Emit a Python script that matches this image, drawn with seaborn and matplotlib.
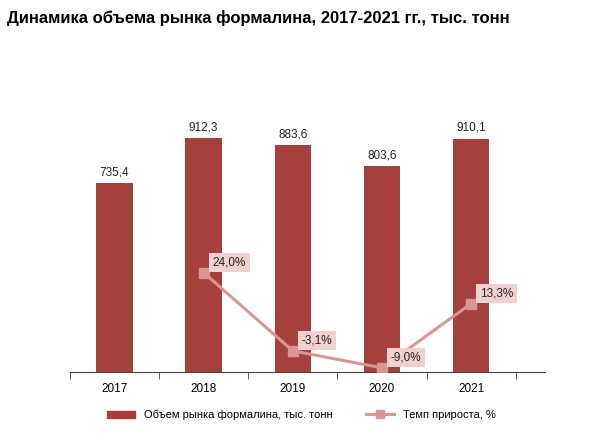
import matplotlib
matplotlib.use("Agg")
import matplotlib.pyplot as plt
import seaborn as sns
import pandas as pd
import numpy as np
from matplotlib.lines import Line2D
from matplotlib.patches import Patch

plt.rcParams["font.family"] = "Liberation Sans"

years = ["2017", "2018", "2019", "2020", "2021"]
volume = [735.4, 912.3, 883.6, 803.6, 910.1]
growth_years = ["2018", "2019", "2020", "2021"]
growth = [24.0, -3.1, -9.0, 13.3]

bar_color = "#A5403D"
line_color = "#D99694"

df = pd.DataFrame({"year": years, "volume": volume})

fig = plt.figure(figsize=(6.03, 4.36), dpi=100)
ax = fig.add_axes([0.116, 0.147, 0.788, 0.588])
sns.barplot(data=df, x="year", y="volume", color=bar_color, width=0.41,
            saturation=1, ax=ax)
ax.set_ylim(0, 1000)
ax.set_xlim(-0.5, 4.83)
for i, v in enumerate(volume):
    ax.text(i, v + 18, f"{v:.1f}".replace(".", ","), ha="center", va="bottom",
            fontsize=8.5, color="#222222")

ax2 = ax.twinx()
xs = [years.index(y) for y in growth_years]
ax2.plot(xs, growth, color=line_color, lw=2.2, marker="s", ms=7)
ax2.set_ylim(-10.4, 78.5)
for x, g in zip(xs, growth):
    ax2.text(x + 0.1, g + 1.5, f"{g:.1f}%".replace(".", ","), ha="left", va="bottom",
             fontsize=8.5, color="#222222",
             bbox=dict(boxstyle="square,pad=0.3", fc="#F2D0CF", ec="none"))

for a in (ax, ax2):
    for s in ["top", "right", "left"]:
        a.spines[s].set_visible(False)
    a.set_yticks([])
    a.set_ylabel("")
ax2.spines["bottom"].set_visible(False)
ax.spines["bottom"].set_color("#444444")
ax.set_xlabel("")
ax.tick_params(axis="x", length=0, labelsize=8.5, pad=8)
ax.set_xticks(np.arange(-0.5, 5, 1), minor=True)
ax.tick_params(axis="x", which="minor", length=5, color="#444444")

fig.text(0.012, 0.958, "Динамика объема рынка формалина, 2017-2021 гг., тыс. тонн",
         fontsize=12, fontweight="bold", ha="left", va="center")

handles = [Patch(color=bar_color, label="Объем рынка формалина, тыс. тонн"),
           Line2D([0], [0], color=line_color, lw=2.2, marker="s", ms=6,
                  label="Темп прироста, %")]
fig.legend(handles=handles, loc="center", bbox_to_anchor=(0.5, 0.048), ncol=2,
           frameon=False, fontsize=8, handlelength=2.5, columnspacing=3)

fig.savefig("out.png", dpi=100)
